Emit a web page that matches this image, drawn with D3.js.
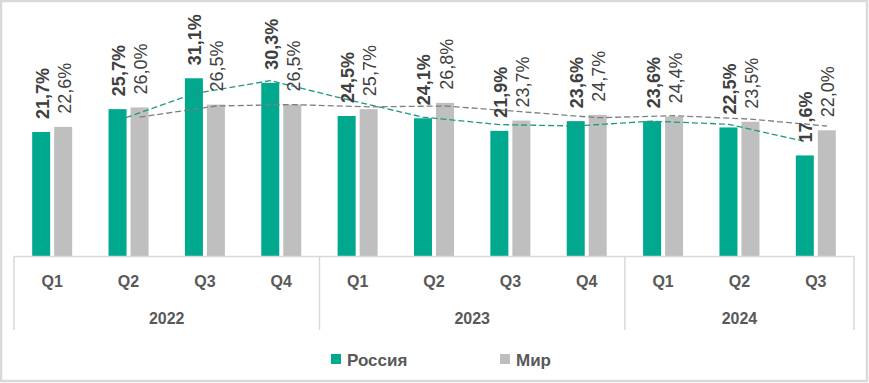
<!DOCTYPE html>
<html>
<head>
<meta charset="utf-8">
<script src="https://cdn.jsdelivr.net/npm/d3@7"></script>
<style>
  html, body { margin: 0; padding: 0; background: #fff; }
  svg { display: block; font-family: "Liberation Sans", Arial, sans-serif; }
</style>
</head>
<body>
<svg id="chart" width="869" height="383"></svg>
<script>
// ---- Data ----
const quarters = ["Q1", "Q2", "Q3", "Q4", "Q1", "Q2", "Q3", "Q4", "Q1", "Q2", "Q3"];
const years = ["2022", "2023", "2024"];
const yearSpans = [4, 4, 3];
const seriesNames = ["Россия", "Мир"];
const russia = [21.7, 25.7, 31.1, 30.3, 24.5, 24.1, 21.9, 23.6, 23.6, 22.5, 17.6];
const world  = [22.6, 26.0, 26.5, 26.5, 25.7, 26.8, 23.7, 24.7, 24.4, 23.5, 22.0];
const colors = ["#00A88E", "#BFBFBF"];
const trendColors = ["#1E9A80", "#7F7F7F"];

// ---- Layout ----
const svg = d3.select("#chart");
const W = 869, H = 383;
const plotLeft = 14, plotRight = 854, baseY = 256, axisBottom = 330;

// outer border
svg.append("rect")
  .attr("x", 1).attr("y", 1).attr("width", W - 3).attr("height", H - 3)
  .attr("fill", "#fff").attr("stroke", "#D9D9D9").attr("stroke-width", 2.5);

const idx = d3.range(quarters.length);
const x = d3.scaleBand().domain(idx).range([plotLeft, plotRight]).padding(0);
const xs = d3.scaleBand().domain(seriesNames).range([0, x.bandwidth()])
  .paddingInner(0.1818).paddingOuter(0.826);
const y = d3.scaleLinear().domain([0, 35]).range([baseY, 56]);

const series = [russia, world];
const fmt = v => d3.format(".1f")(v).replace(".", ",") + "%";

// bars
series.forEach((vals, si) => {
  svg.append("g").selectAll("rect").data(vals).join("rect")
    .attr("x", (d, i) => x(i) + xs(seriesNames[si]))
    .attr("y", d => y(d))
    .attr("width", xs.bandwidth())
    .attr("height", d => baseY - y(d))
    .attr("fill", colors[si]);
});

// trendlines: 2-period moving average
series.forEach((vals, si) => {
  const pts = vals.map((v, i) => i === 0 ? null : [x(i) + xs(seriesNames[si]) + xs.bandwidth() / 2, y((v + vals[i - 1]) / 2)])
    .filter(p => p);
  svg.append("path")
    .attr("d", d3.line()(pts))
    .attr("fill", "none")
    .attr("stroke", trendColors[si])
    .attr("stroke-width", 1.3)
    .attr("stroke-dasharray", "6,3");
});

// data labels
series.forEach((vals, si) => {
  svg.append("g").selectAll("text").data(vals).join("text")
    .attr("transform", (d, i) => {
      const cx = x(i) + xs(seriesNames[si]) + xs.bandwidth() / 2 + 1.5;
      const cy = y(d) - 13;
      return `translate(${cx},${cy}) rotate(-90)`;
    })
    .attr("text-anchor", "start")
    .attr("dominant-baseline", "central")
    .attr("font-size", 18)
    .attr("font-weight", si === 0 ? "bold" : "normal")
    .attr("fill", "#404040")
    .text(d => fmt(d));
});

// category axis box
const axisG = svg.append("g");
axisG.append("line")
  .attr("x1", plotLeft).attr("x2", plotRight)
  .attr("y1", baseY + 0.5).attr("y2", baseY + 0.5)
  .attr("stroke", "#D9D9D9").attr("stroke-width", 1.5);

const bounds = [0];
yearSpans.forEach(s => bounds.push(bounds[bounds.length - 1] + s));
bounds.forEach(b => {
  const bx = b === quarters.length ? plotRight : x(b);
  axisG.append("line")
    .attr("x1", bx).attr("x2", bx)
    .attr("y1", baseY).attr("y2", axisBottom)
    .attr("stroke", "#D9D9D9").attr("stroke-width", 1.5);
});

axisG.selectAll("text.q").data(quarters).join("text")
  .attr("class", "q")
  .attr("x", (d, i) => x(i) + x.bandwidth() / 2)
  .attr("y", 287)
  .attr("text-anchor", "middle")
  .attr("font-size", 16).attr("font-weight", "bold")
  .attr("fill", "#595959")
  .text(d => d);

axisG.selectAll("text.yr").data(years).join("text")
  .attr("class", "yr")
  .attr("x", (d, i) => {
    const x0 = x(bounds[i]);
    const x1 = bounds[i + 1] === quarters.length ? plotRight : x(bounds[i + 1]);
    return (x0 + x1) / 2;
  })
  .attr("y", 323.5)
  .attr("text-anchor", "middle")
  .attr("font-size", 16).attr("font-weight", "bold")
  .attr("fill", "#595959")
  .text(d => d);

// legend
const legendX = [331, 500];
const lg = svg.append("g");
seriesNames.forEach((name, si) => {
  lg.append("rect")
    .attr("x", legendX[si]).attr("y", 354)
    .attr("width", 10).attr("height", 10)
    .attr("fill", colors[si]);
  lg.append("text")
    .attr("x", legendX[si] + 16).attr("y", 366)
    .attr("font-size", 17).attr("font-weight", "bold")
    .attr("fill", "#595959")
    .text(name);
});
</script>
</body>
</html>
